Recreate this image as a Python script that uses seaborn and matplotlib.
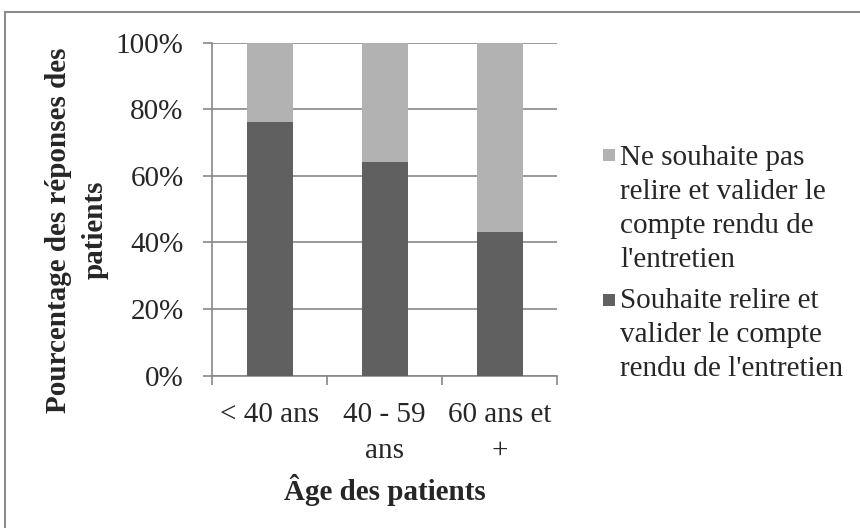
import matplotlib
matplotlib.use("Agg")
import matplotlib.pyplot as plt
from matplotlib.patches import Rectangle
from matplotlib.ticker import FuncFormatter, FixedLocator
import seaborn as sns
import pandas as pd

# Age groups and share of answers (%)
categories = ["< 40 ans", "40 - 59\nans", "60 ans et\n+"]
souhaite = [76, 64, 43]
ne_souhaite = [24, 36, 57]
labels = ["Ne souhaite pas\nrelire et valider le\ncompte rendu de\nl'entretien",
          "Souhaite relire et\nvalider le compte\nrendu de l'entretien"]
y_ticks = [0, 20, 40, 60, 80, 100]

sns.set_theme(style="white")
plt.rcParams["font.family"] = ["Liberation Serif", "DejaVu Serif"]

dark = "#606060"
light = "#b2b2b2"
grid_c = "#878787"
FS = 21
LINE_PX = 34  # legend line pitch in pixels

df = pd.DataFrame({
    "age": categories,
    "souhaite": souhaite,
    "total": [a + b for a, b in zip(souhaite, ne_souhaite)],
})

fig = plt.figure(figsize=(8.6, 5.28), dpi=100)
ax = fig.add_axes([212 / 860, 1 - 375.7 / 528, (557 - 212) / 860, (375.7 - 42.5) / 528])

# stacked bars: full height in light grey, lower segment in dark grey
sns.barplot(data=df, x="age", y="total", color=light, width=0.4,
            saturation=1, ax=ax, zorder=3, linewidth=0)
sns.barplot(data=df, x="age", y="souhaite", color=dark, width=0.4,
            saturation=1, ax=ax, zorder=4, linewidth=0)

ax.set_xlim(-0.5, len(categories) - 0.5)
ax.set_ylim(0, 100)
ax.set_yticks(y_ticks)
ax.yaxis.set_major_formatter(FuncFormatter(lambda v, p: f"{int(v)}%"))
ax.yaxis.grid(True, color=grid_c, linewidth=1.2, zorder=0)
ax.set_axisbelow(True)

for s in ["top", "right"]:
    ax.spines[s].set_visible(False)
for s in ["left", "bottom"]:
    ax.spines[s].set_color(grid_c)
    ax.spines[s].set_linewidth(1.2)

ax.tick_params(axis="y", which="major", length=6.5, width=1.2, color=grid_c,
               direction="out", pad=14, labelsize=FS, left=True)
ax.tick_params(axis="x", which="major", length=0, pad=19, labelsize=FS)
ax.xaxis.set_minor_locator(FixedLocator([-0.5, 0.5, 1.5, 2.5]))
ax.tick_params(axis="x", which="minor", length=6.5, width=1.2, color=grid_c,
               direction="out", bottom=True)
for t in ax.get_xticklabels():
    t.set_linespacing(1.48)
ax.set_xlabel("")
ax.set_ylabel("")

fig.text(77 / 860, 1 - 230 / 528, "Pourcentage des réponses des\npatients",
         rotation=90, ha="center", va="center", fontsize=FS,
         fontweight="bold", multialignment="center", linespacing=1.45)
fig.text(385 / 860, 1 - 490 / 528, "Âge des patients", ha="center",
         va="center", fontsize=FS, fontweight="bold")

# legend: square beside the first line of each wrapped label
for color, text, sq_top, base in [(light, labels[0], 149, 165), (dark, labels[1], 294, 308)]:
    fig.patches.append(Rectangle((603 / 860, 1 - (sq_top + 12) / 528), 12 / 860, 12 / 528,
                                 transform=fig.transFigure, facecolor=color,
                                 edgecolor="none"))
    last_base = base + (text.count("\n")) * LINE_PX
    fig.text(620 / 860, 1 - last_base / 528, text, ha="left", va="baseline",
             fontsize=FS, linespacing=1.4)

# chart frame
fig.patches.append(Rectangle((5 / 860, -0.2), 1.2, 1.2 - 12 / 528,
                             transform=fig.transFigure, facecolor="none",
                             edgecolor="#8c8c8c", linewidth=1.5))

fig.savefig("out.png", dpi=100)
